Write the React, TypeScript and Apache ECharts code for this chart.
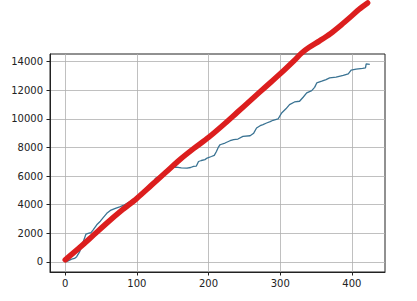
import React, { useEffect, useRef } from 'react';
import * as echarts from 'echarts';

// Blue (observed) series
const blueX = [0, 4, 9, 13, 16, 20, 25, 29, 32, 36, 39, 44, 49, 53, 58, 63, 70, 76, 81, 88, 95, 100, 106, 112, 118, 122, 126, 130, 134, 138, 143, 150, 155, 162, 170, 175, 179, 183, 186, 190, 195, 198, 204, 208, 211, 214, 216, 223, 230, 235, 241, 248, 258, 263, 267, 272, 276, 281, 286, 290, 297, 299, 302, 308, 313, 320, 327, 332, 337, 344, 348, 351, 358, 364, 369, 378, 388, 395, 399, 406, 415, 419, 420, 425];
const blueY = [0, 80, 200, 250, 370, 700, 1400, 1950, 2000, 2050, 2250, 2600, 2850, 3100, 3400, 3600, 3750, 3850, 3950, 4150, 4350, 4450, 4650, 4950, 5250, 5500, 5850, 5950, 6050, 6250, 6500, 6600, 6620, 6580, 6560, 6600, 6680, 6700, 7020, 7090, 7150, 7260, 7370, 7450, 7720, 8050, 8190, 8310, 8470, 8550, 8590, 8770, 8820, 9000, 9360, 9520, 9600, 9710, 9800, 9900, 9990, 10150, 10410, 10700, 10990, 11180, 11230, 11510, 11810, 11970, 12200, 12510, 12630, 12740, 12860, 12910, 13030, 13140, 13400, 13470, 13520, 13560, 13840, 13800];

// Red (trend) series
const redX = [0, 20, 40, 60, 80, 100, 120, 140, 160, 180, 200, 220, 240, 260, 280, 300, 320, 330, 340, 355, 370, 385, 400, 410, 422];
const redY = [150, 1000, 1900, 2800, 3650, 4450, 5350, 6250, 7150, 7950, 8700, 9550, 10450, 11350, 12250, 13150, 14100, 14600, 14980, 15450, 15950, 16550, 17200, 17650, 18100];

const xTicks = [0, 100, 200, 300, 400];
const yTicks = [0, 2000, 4000, 6000, 8000, 10000, 12000, 14000];

export default function App() {
  const ref = useRef<HTMLDivElement>(null);
  useEffect(() => {
    const chart = echarts.init(ref.current!, null, { renderer: 'svg' });
    const axisText = { fontFamily: 'DejaVu Sans', fontSize: 10, color: '#222', formatter: (v: number) => String(v) };
    chart.setOption({
      animation: false,
      backgroundColor: '#ffffff',
      grid: {
        left: 50, top: 54, width: 335, height: 218,
        show: true, borderColor: '#222', borderWidth: 1, backgroundColor: 'transparent',
      },
      xAxis: {
        type: 'value', min: -21.25, max: 446.25,
        axisLine: { show: true, onZero: false, lineStyle: { color: '#222', width: 1 } },
        axisTick: { show: true, length: 3.5, customValues: xTicks, lineStyle: { color: '#222', width: 1 } },
        axisLabel: { ...axisText, margin: 6, customValues: xTicks },
        splitLine: { show: true, lineStyle: { color: '#b0b0b0', width: 0.8 } },
      },
      yAxis: {
        type: 'value', min: -700, max: 14530,
        axisLine: { show: true, onZero: false, lineStyle: { color: '#222', width: 1 } },
        axisTick: { show: true, length: 3.5, customValues: yTicks, lineStyle: { color: '#222', width: 1 } },
        axisLabel: { ...axisText, margin: 7, customValues: yTicks },
        splitLine: { show: true, lineStyle: { color: '#b0b0b0', width: 0.8 } },
      },
      series: [
        {
          type: 'line',
          data: blueX.map((x, i) => [x, blueY[i]]),
          showSymbol: false,
          lineStyle: { color: '#3a7393', width: 1.3 },
          z: 2,
        },
        {
          type: 'line',
          data: redX.map((x, i) => [x, redY[i]]),
          showSymbol: false,
          smooth: 0.3,
          clip: false,
          lineStyle: { color: '#dc1e1e', width: 5.5, cap: 'round', join: 'round' },
          z: 3,
        },
      ],
    });
    return () => chart.dispose();
  }, []);
  return <div ref={ref} style={{ position: 'fixed', left: 0, top: 0, width: 417, height: 301 }} />;
}
